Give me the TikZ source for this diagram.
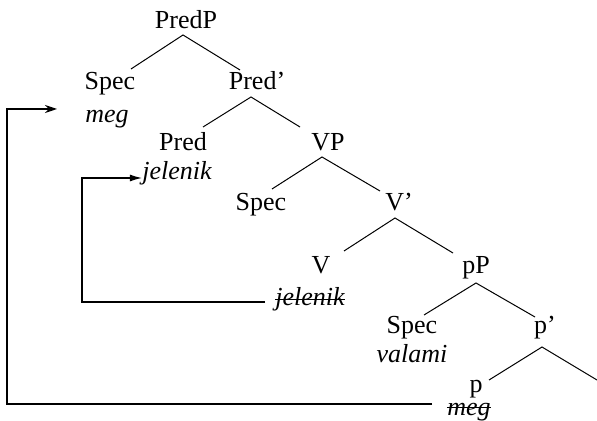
\documentclass[tikz,border=0pt]{standalone}
\usepackage{fontspec}
\setmainfont{Liberation Serif}
\usetikzlibrary{arrows.meta}
\begin{document}
\begin{tikzpicture}[x=0.5pt,y=-0.5pt,
  lab/.style={inner sep=0pt,anchor=base,font=\fontsize{13}{15}\selectfont},
  ital/.style={lab,font=\fontsize{13}{15}\selectfont\itshape},
  branch/.style={line width=0.5pt},
  move/.style={line width=0.6pt},
  strike/.style={line width=0.55pt}]
\useasboundingbox (0,0) rectangle (597,421);
% labels
\node[lab] (PredP) at (186,29) {PredP};
\node[lab] (Spec1) at (110,90) {Spec};
\node[ital] (meg1) at (107,123) {meg};
\node[lab] (Predbar) at (257,90) {Pred’};
\node[lab] (Pred) at (183,151) {Pred};
\node[ital] (jel1) at (177,180) {jelenik};
\node[lab] (VP) at (328,151) {VP};
\node[lab] (Spec2) at (261,211) {Spec};
\node[lab] (Vbar) at (399,211) {V’};
\node[lab] (V) at (321,273) {V};
\node[ital] (jel2) at (310,305) {jelenik};
\node[lab] (pP) at (476,273) {pP};
\node[lab] (Spec3) at (412,333) {Spec};
\node[ital] (valami) at (412,362) {valami};
\node[lab] (pbar) at (545,333) {p’};
\node[lab] (p) at (476,392) {p};
\node[ital] (meg2) at (469,415) {meg};
% branch points
\coordinate (a1) at (183,35);  \coordinate (l1) at (131,69);  \coordinate (r1) at (240,70);
\coordinate (a2) at (251,97);  \coordinate (l2) at (203,127); \coordinate (r2) at (300,127);
\coordinate (a3) at (322,157); \coordinate (l3) at (272,189); \coordinate (r3) at (380,191);
\coordinate (a4) at (395,218); \coordinate (l4) at (344,251); \coordinate (r4) at (453,253);
\coordinate (a5) at (476,283); \coordinate (l5) at (424,315); \coordinate (r5) at (535,317);
\coordinate (a6) at (542,347); \coordinate (l6) at (489,380); \coordinate (r6) at (597,380);
\foreach \i in {1,...,6}{\draw[branch] (l\i) -- (a\i) -- (r\i);}
% strikethroughs
\draw[strike] ([yshift=2.6pt]jel2.base west) -- ([yshift=2.6pt]jel2.base east);
\draw[strike] ([yshift=3.6pt]meg2.base west) -- ([yshift=3.6pt]meg2.base east);
% movement arrows
\coordinate (s1) at (265,302); \coordinate (c1) at (82,302); \coordinate (c2) at (82,178);
\draw[move,-{Latex[length=6pt,width=3.5pt]}] (s1) -- (c1) -- (c2) -- (jel1.west |- c2);
\coordinate (s2) at (432,404); \coordinate (d1) at (7,404); \coordinate (d2) at (7,109); \coordinate (e2) at (57,109);
\draw[move,-{Stealth[length=6pt,width=4pt]}] (s2) -- (d1) -- (d2) -- (e2);
\end{tikzpicture}
\end{document}
